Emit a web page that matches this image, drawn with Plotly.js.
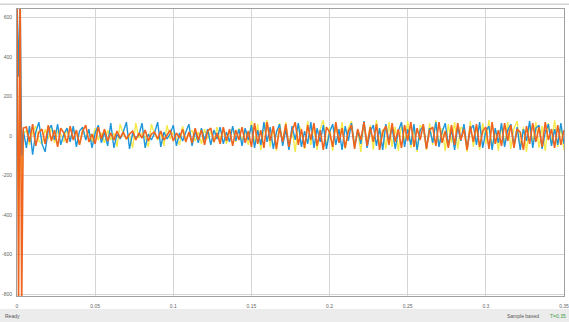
<!DOCTYPE html>
<html>
<head>
<meta charset="utf-8">
<script src="https://cdn.plot.ly/plotly-3.0.1.min.js"></script>
<style>html,body{margin:0;padding:0;background:#fff;}#chart{width:569px;height:322px;}</style>
</head>
<body>
<div id="chart"></div>
<script>
// scope sample times: a finer start-up burst, then a fixed step
const startTimes = [0, 0.001, 0.002, 0.003];
const sampleStep = 0.002;
const firstSteadyTime = 0.004;
const steadyCount = 174;

const blueValues = [700, 300, 700, -100, 30,
 -60, 50, -95, 20, 70, -40, -80, 30, 55, -20, 60, -45, 10, 40, -30, 50, -55, 25, 45, -20, 35, -60, 15, 55, -35, 20, -50,
 65, -60, 10, -15, 20, 70, -65, 15, -10, 5, 65, -60, 10, -20, 15, 70, -55, 20, -15, 10, 55, -50, 15, -25, 20, 60,
 -50, 25, -35, 40, -20, 35, -45, 30, -15, 45, -40, 20, -30, 50, -25, 35, -50, 40, -20,
 55, -60, 30, -45, 70, -30, 45, -65, 20, 60,
 -50, 35, -70, 50, -20, 65, -55, 25, -40, 70,
 -60, 40, -30, 55, -65, 20, 60, -45, 35, -70,
 50, -25, 65, -55, 30, -40, 75, -60, 20, 55,
 -50, 40, -70, 60, -30, 45, -65, 25, 70, -55,
 35, -45, 60, -70, 30, 50, -60, 40, -35, 70,
 -55, 20, 65, -50, 35, -70, 45, -25, 60, -65,
 30, 55, -45, 70, -60, 25, 50, -70, 40, -35,
 65, -55, 30, 60, -50, 45, -70, 35, -25, 75,
 -60, 40, 55, -65, 20, 60, -50, 35, -45, 65,
 -40];

const orangeValues = [760, -860, 760, -860, 40,
 45, -30, 60, -50, 20, 35, -40, 55, -25, 30, -55, 40, 15, -35, 50, -20, 30, -45, 25, 55, -30, 10, -40, 45, -15, 35, -25,
 15, -20, 25, -10, 20, -15, 10, 25, -20, 15, -10, 30, -25, 10, 20, -15, 25, -20, 5, 30, -25, 15, -10, 35, -30, 20,
 -35, 40, -20, 30, -45, 25, 40, -30, 15, -40, 45, -25, 35, -50, 30, -20, 45, -35, 25,
 -55, 65, -40, 30, -60, 70, -25, 50, -65, 40,
 -30, 60, -55, 25, 70, -45, 35, -60, 55, -20,
 65, -50, 30, -70, 45, 20, -55, 70, -35, 40,
 -60, 25, 55, -65, 35, -20, 70, -50, 45, -30,
 60, -70, 20, 50, -45, 65, -30, 35, -60, 55,
 -25, 70, -55, 40, -20, 60, -65, 30, 45, -50,
 70, -35, 25, -60, 55, -45, 65, -20, 35, -70,
 50, -30, 60, -55, 25, 45, -65, 70, -40, 30,
 -50, 65, -25, 55, -60, 35, 20, -70, 50, -40,
 65, -30, 45, -55, 70, -20, 35, -60, 55, -45,
 30];

const yellowValues = [320, -380, 200, -300, 10,
 30, -45, 20, 50, -25, -40, 35, -15, 45, -35, 25, 10, -30, 40, -20, 30, 15, -45, 35, -10, 25, -30, 40, -20, 15, -35, 30,
 -20, 15, -55, 60, 10, -15, 5, -60, 65, -10, 15, -5, -55, 60, 10, -20, 15, -50, 55, -15, 20, -10, -45, 50, -20, 10,
 30, -25, 20, -40, 35, -15, 25, -35, 45, -20, 30, -40, 20, 35, -30, 40, -25, 30, -45,
 75, -40, 60, -70, 35, 80, -55, 45, -75, 65,
 -30, 70, -60, 40, -80, 55, 30, -65, 75, -45,
 50, -70, 35, 80, -55, 45, -75, 60, -35, 70,
 -65, 40, 75, -50, 30, -80, 65, -40, 55, -70,
 80, -45, 35, -65, 70, -55, 45, -75, 60, -30,
 75, -60, 40, -80, 55, 35, -70, 65, -45, 80,
 -50, 40, -75, 60, -35, 70, -65, 45, 30, -80,
 75, -55, 50, -70, 65, -40, 80, -60, 35, -75,
 55, -45, 70, -65, 40, 75, -55, 45, -80, 60,
 -35, 70, -60, 50, -75, 65, -40, 80, -55, 45,
 -70];

const xTickValues = [0, 0.05, 0.1, 0.15, 0.2, 0.25, 0.3, 0.35];
const xTickLabels = ['0', '0.05', '0.1', '0.15', '0.2', '0.25', '0.3', '0.35'];
const yTickValues = [-800, -600, -400, -200, 0, 200, 400, 600];
const yTickLabels = ['-800', '-600', '-400', '-200', '0', '200', '400', '600'];

const time = startTimes.slice();
for (let i = 0; i < steadyCount; i++) time.push(+(firstSteadyTime + i * sampleStep).toFixed(4));

const traces = [
  {x: time, y: yellowValues, type: 'scatter', mode: 'lines', line: {color: '#f6e94a', width: 1.4}, name: 'c'},
  {x: time, y: blueValues, type: 'scatter', mode: 'lines', line: {color: '#1e96dc', width: 1.4}, name: 'b'},
  {x: time, y: orangeValues, type: 'scatter', mode: 'lines', line: {color: '#f0641e', width: 1.6}, name: 'a'}
];

const layout = {
  width: 569, height: 322,
  margin: {l: 17, r: 5, t: 9, b: 26},
  paper_bgcolor: '#ffffff', plot_bgcolor: '#ffffff',
  showlegend: false,
  font: {family: 'Liberation Sans, Arial, sans-serif', size: 5, color: '#666'},
  xaxis: {
    range: [0, 0.35], tickvals: xTickValues, ticktext: xTickLabels,
    showgrid: true, gridcolor: '#d4d4d4', gridwidth: 1,
    zeroline: false, showline: true, linecolor: '#a0a0a0', mirror: true,
    ticks: 'outside', ticklen: 5, tickcolor: 'rgba(0,0,0,0)',
    ticklabeloverflow: 'allow',
    tickfont: {size: 5, color: '#666'}
  },
  yaxis: {
    range: [-810, 643], tickvals: yTickValues, ticktext: yTickLabels,
    showgrid: true, gridcolor: '#d4d4d4', gridwidth: 1,
    zeroline: false, showline: true, linecolor: '#a0a0a0', mirror: true,
    ticks: 'outside', ticklen: 3, tickcolor: 'rgba(0,0,0,0)',
    tickfont: {size: 5, color: '#666'}
  },
  shapes: [
    {type: 'line', xref: 'paper', yref: 'paper', x0: -0.04, x1: 1.02, y0: 1.017, y1: 1.017, line: {color: '#bdbdbd', width: 1}},
    {type: 'rect', xref: 'paper', yref: 'paper', x0: -0.04, x1: 1.02, y0: -0.093, y1: -0.045, fillcolor: '#ececec', line: {width: 0}, layer: 'below'}
  ],
  annotations: [
    {xref: 'paper', yref: 'paper', x: -0.025, y: -0.069, text: 'Ready', showarrow: false, xanchor: 'left', yanchor: 'middle', font: {size: 5, color: '#555'}},
    {xref: 'paper', yref: 'paper', x: 0.958, y: -0.069, text: 'Sample based', showarrow: false, xanchor: 'right', yanchor: 'middle', font: {size: 5, color: '#555'}},
    {xref: 'paper', yref: 'paper', x: 1.008, y: -0.069, text: 'T=0.35', showarrow: false, xanchor: 'right', yanchor: 'middle', font: {size: 5, color: '#3a9a3a'}}
  ]
};

Plotly.newPlot('chart', traces, layout, {staticPlot: true, displayModeBar: false});
</script>
</body>
</html>
